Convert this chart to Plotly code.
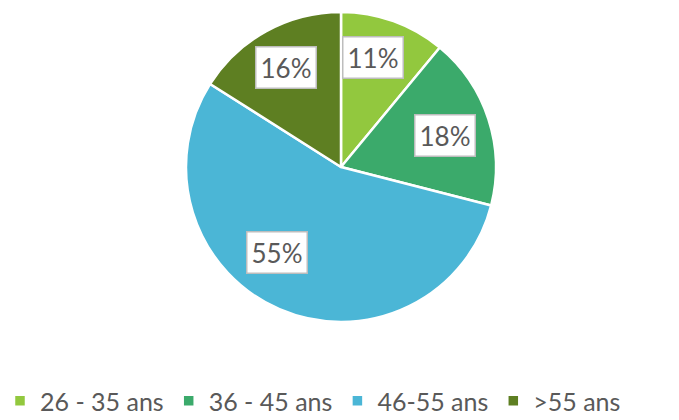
import math
import plotly.graph_objects as go

categories = ["26 - 35 ans", "36 - 45 ans", "46-55 ans", ">55 ans"]
values = [11, 18, 55, 16]
label_texts = ["11%", "18%", "55%", "16%"]

colors = ["#92C83E", "#3BAA6B", "#4BB6D6", "#5E7F22"]

W, H = 679, 420
fig = go.Figure(go.Pie(
    labels=categories,
    values=values,
    sort=False,
    direction="clockwise",
    rotation=0,
    marker=dict(colors=colors, line=dict(color="white", width=2.5)),
    textinfo="none",
    hoverinfo="label+percent",
    domain=dict(x=[186/W, 496/W], y=[1-322/H, 1-12/H]),
))

# pie geometry in paper coordinates for label boxes
cx = (186 + 496) / 2 / W
cy = 1 - (12 + 322) / 2 / H
R = 155
frac = [0.735, 0.70, 0.69, 0.735]
adj = [-3.4, 1, 13.6, 0]  # degrees tweak
total = sum(values)
cum = 0
for v, t, f, a in zip(values, label_texts, frac, adj):
    mid = (cum + v / 2) / total * 360 + a
    cum += v
    dx = f * R * math.sin(math.radians(mid))
    dy = f * R * math.cos(math.radians(mid))
    fig.add_annotation(
        x=cx + dx / W, y=cy + dy / H, xref="paper", yref="paper",
        xanchor="center", yanchor="middle",
        text=t, showarrow=False,
        font=dict(family="Lato, Open Sans, sans-serif", size=26, color="#595959"),
        bgcolor="white", bordercolor="#BDBDBD", borderwidth=1.5, borderpad=4,
    )

fig.update_layout(
    width=W, height=H,
    margin=dict(l=0, r=0, t=0, b=0, autoexpand=False),
    paper_bgcolor="white",
    font=dict(family="Lato, Open Sans, sans-serif", color="#595959"),
    legend=dict(
        orientation="h", x=0.0, xanchor="left", y=0.045, yanchor="middle",
        font=dict(size=25, color="#595959"),
        itemwidth=30,
    ),
)

fig.write_html("out.html", config={"displayModeBar": False},
               post_script="document.body.style.margin='0';")
